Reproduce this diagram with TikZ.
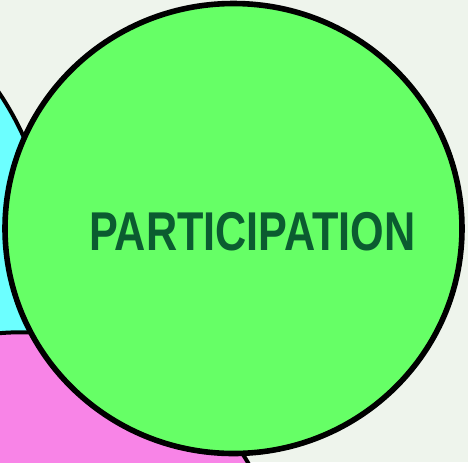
\documentclass[tikz,border=0pt]{standalone}
\usepackage{fontspec}
\newfontfamily\labelfont{Liberation Sans}

\definecolor{paper}{HTML}{EEF4EC}
\definecolor{partgreen}{HTML}{66FF66}
\definecolor{partcyan}{HTML}{6CFFFF}
\definecolor{partpink}{HTML}{F884E7}
\definecolor{textgreen}{HTML}{0B5C30}

\tikzset{
    ring/.style={draw=black, line width=#1},
    biglabel/.style={text=textgreen, font=\labelfont\bfseries\fontsize{41}{41}\selectfont, inner sep=0pt}
}

\begin{document}
\begin{tikzpicture}[x=0.75pt, y=-0.75pt]
    \fill[paper] (0,0) rectangle (468,462);
    \useasboundingbox (0,0) rectangle (468,462);
    \clip (0,0) rectangle (468,462);

    % circles behind
    \filldraw[fill=partcyan, ring=3pt] (-250,260) circle [radius=300];
    \filldraw[fill=partpink, ring=3pt] (21,595) circle [radius=262.7];

    % front circle
    \filldraw[fill=partgreen, ring=4.2pt] (233.5,228.5) ellipse [x radius=228.5, y radius=225];
    \node[biglabel] (participation) at (252.5,231.5) {\scalebox{0.79}[1]{PARTICIPATION}};
\end{tikzpicture}
\end{document}
